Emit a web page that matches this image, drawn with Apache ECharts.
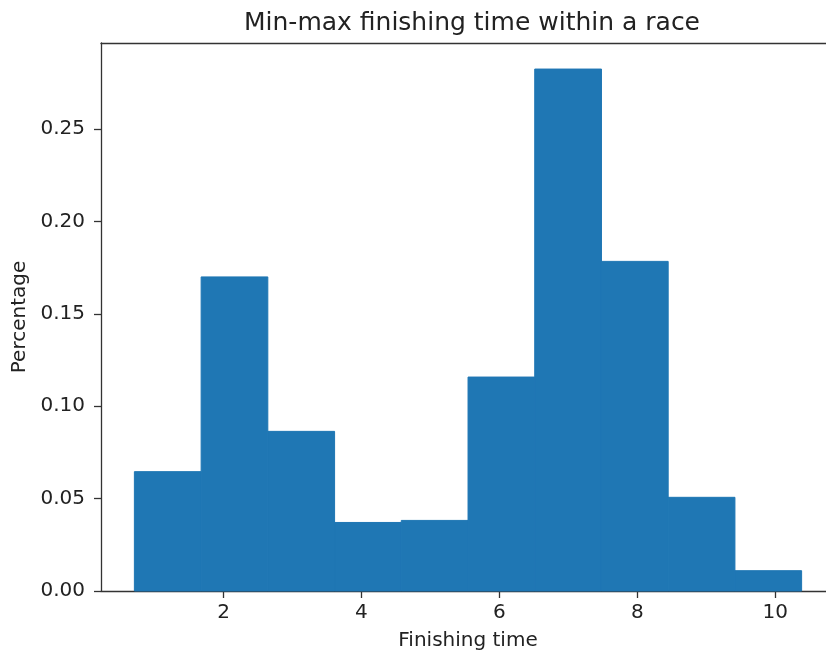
<!DOCTYPE html>
<html>
<head>
<meta charset="utf-8">
<script src="https://cdn.jsdelivr.net/npm/echarts@6/dist/echarts.min.js"></script>
<style>
  html, body { margin: 0; padding: 0; background: #fff; }
  #chart { width: 826px; height: 660px; }
</style>
</head>
<body>
<div id="chart"></div>
<script>
// histogram bin edges (finishing time) and bar heights (percentage)
var binEdges = [0.707, 1.675, 2.642, 3.61, 4.577, 5.545, 6.512, 7.48, 8.447, 9.415, 10.382];
var binValues = [0.0646, 0.170, 0.0864, 0.0371, 0.0382, 0.1158, 0.2825, 0.1784, 0.0507, 0.011];
var xTicks = [2, 4, 6, 8, 10];

var bars = binValues.map(function (v, i) {
    return [binEdges[i], binEdges[i + 1], v];
});

var textColor = '#222';
var fontFamily = 'DejaVu Sans';
var spine = {color: '#333', width: 1.3};

var chart = echarts.init(document.getElementById('chart'));
chart.setOption({
    animation: false,
    title: {
        text: 'Min-max finishing time within a race',
        left: 467,
        textAlign: 'center',
        top: 6,
        textStyle: {fontFamily: fontFamily, fontSize: 25, fontWeight: 'normal', color: textColor}
    },
    grid: {
        left: 101,
        top: 43,
        width: 734,
        bottom: 69,
        outerBoundsMode: 'none'
    },
    xAxis: [{
        type: 'value',
        min: 0.223,
        max: 10.866,
        name: 'Finishing time',
        nameLocation: 'middle',
        nameGap: 40,
        nameTextStyle: {fontFamily: fontFamily, fontSize: 20, color: textColor},
        splitLine: {show: false},
        axisLine: {lineStyle: spine},
        axisTick: {show: true, customValues: xTicks, length: 7, lineStyle: spine},
        axisLabel: {
            customValues: xTicks,
            margin: 12,
            fontFamily: fontFamily,
            fontSize: 20,
            color: textColor
        }
    }, {
        // top spine only
        type: 'value',
        position: 'top',
        min: 0.223,
        max: 10.866,
        splitLine: {show: false},
        axisLine: {show: true, lineStyle: spine},
        axisTick: {show: false},
        axisLabel: {show: false}
    }],
    yAxis: {
        type: 'value',
        min: 0,
        max: 0.2966,
        interval: 0.05,
        name: 'Percentage',
        nameLocation: 'middle',
        nameGap: 70,
        nameTextStyle: {fontFamily: fontFamily, fontSize: 20, color: textColor},
        splitLine: {show: false},
        axisLine: {show: true, lineStyle: spine},
        axisTick: {show: true, length: 7, lineStyle: spine},
        axisLabel: {
            margin: 16,
            showMaxLabel: false,
            fontFamily: fontFamily,
            fontSize: 20,
            color: textColor,
            formatter: function (v) { return v.toFixed(2); }
        }
    },
    series: [{
        type: 'custom',
        data: bars,
        encode: {x: [0, 1], y: 2},
        renderItem: function (params, api) {
            var p0 = api.coord([api.value(0), 0]);
            var p1 = api.coord([api.value(1), api.value(2)]);
            return {
                type: 'rect',
                shape: {x: p0[0], y: p1[1], width: p1[0] - p0[0], height: p0[1] - p1[1]},
                style: {fill: '#1f77b4', stroke: '#1f77b4', lineWidth: 1}
            };
        }
    }]
});
</script>
</body>
</html>
